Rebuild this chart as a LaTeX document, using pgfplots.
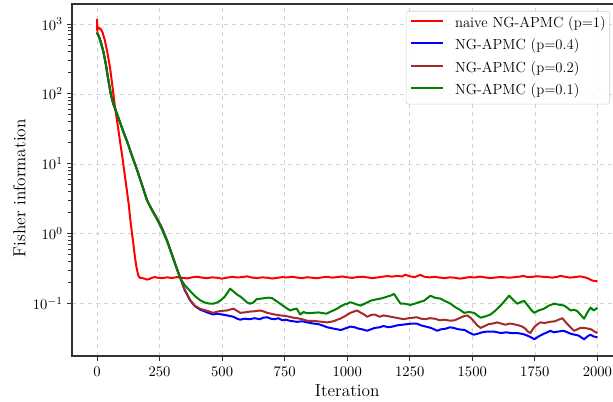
\documentclass[border=0pt]{standalone}
\usepackage{pgfplots}
\pgfplotsset{compat=1.18}
\definecolor{mbrown}{HTML}{A52A2A}
\definecolor{mgreen}{HTML}{008000}
\definecolor{spine}{HTML}{333333}
\begin{document}
\begin{tikzpicture}
\begin{axis}[
  scale only axis,
  width=412.8pt, height=264pt,
  xmin=-100, xmax=2100,
  ymode=log, ymin=0.01786, ymax=1932,
  xtick={0,250,500,750,1000,1250,1500,1750,2000},
  ytick={0.1,1,10,100,1000},
  minor ytick={},
  /pgf/number format/1000 sep={},
  axis line style={spine, line width=0.9pt},
  tick style={spine, line width=0.7pt},
  tick align=outside,
  major tick length=3.5pt,
  xtick pos=bottom, ytick pos=left,
  grid=major,
  major grid style={dashed, gray!35, line width=0.5pt},
  ticklabel style={font=\fontsize{11}{13}\selectfont},
  xticklabel style={anchor=base, yshift=-12.25pt},
  xlabel={Iteration},
  ylabel={Fisher information},
  every axis x label/.style={at={(axis description cs:0.5,0)}, anchor=base, yshift=-30.75pt, font=\fontsize{13}{15}\selectfont},
  every axis y label/.style={at={(axis description cs:0,0)}, xshift=-35pt, yshift=70.5pt, rotate=90, anchor=base west, font=\fontsize{13}{15}\selectfont},
  legend cell align=left,
  legend style={at={(1,1)}, anchor=north east, xshift=-9.3pt, yshift=-5.25pt,
    draw=gray!35, rounded corners=2pt, fill=white, fill opacity=0.8, text opacity=1,
    inner xsep=3pt, inner ysep=4pt, row sep=5.9pt,
    nodes={inner sep=0pt, text height=8pt, text depth=3pt},
    /tikz/every odd column/.append style={column sep=8.25pt},
    font=\fontsize{11}{13}\selectfont},
  legend image code/.code={\draw[#1, line width=1.5pt] (0pt,2.5pt) -- (24pt,2.5pt);},
  every axis plot/.append style={line width=1.5pt, line join=round},
]
% naive NG-APMC (p=1)
\addplot[red] coordinates {
(0,1180) (1,790) (4,900) (10,870) (16,830) (22,760) (32,570) (42,380) (52,238) (62,125) (72,64) (82,37) (92,21) (102,12) (112,6.5) (120,4.0) (127,2.6) (133,1.6) (140,1.0) (146,0.68) (152,0.45) (158,0.33) (164,0.26) (170,0.236)
(180,0.232) (190,0.228) (200,0.221) (210,0.226) (220,0.235) (230,0.24) (240,0.236) (260,0.232) (280,0.238) (300,0.233) (320,0.24) (340,0.235) (360,0.23) (380,0.238) (400,0.243) (420,0.236) (440,0.232) (460,0.238) (480,0.235) (500,0.228) (520,0.236) (540,0.242) (560,0.237) (580,0.24) (600,0.246) (620,0.236) (640,0.232) (660,0.238) (680,0.235) (700,0.229) (720,0.234) (740,0.24) (760,0.237) (780,0.243) (800,0.236) (820,0.232) (840,0.239) (860,0.235) (880,0.231) (900,0.238) (920,0.242) (940,0.236) (960,0.24) (980,0.245) (1000,0.238) (1020,0.234) (1040,0.24) (1060,0.243) (1080,0.238) (1100,0.232) (1120,0.237) (1140,0.243) (1160,0.248) (1180,0.244) (1200,0.25) (1220,0.245) (1232,0.26) (1250,0.246) (1270,0.24) (1292,0.258) (1310,0.242) (1330,0.238) (1350,0.242) (1370,0.236) (1390,0.232) (1410,0.238) (1430,0.235) (1450,0.228) (1470,0.234) (1490,0.24) (1510,0.237) (1530,0.244) (1550,0.238) (1570,0.232) (1590,0.236) (1610,0.241) (1630,0.238) (1650,0.235) (1670,0.24) (1690,0.244) (1705,0.25) (1720,0.24) (1740,0.242) (1760,0.247) (1780,0.243) (1800,0.24) (1820,0.236) (1840,0.242) (1852,0.25) (1870,0.243) (1890,0.236) (1910,0.24) (1930,0.246) (1950,0.238) (1965,0.228) (1975,0.218) (1985,0.212) (2000,0.21)
};
\addlegendentry{naive NG-APMC (p=1)}
% NG-APMC (p=0.4)
\addplot[blue] coordinates {
(0,760) (8,660) (16,540) (25,410) (35,270) (45,160) (55,100) (65,72) (75,58) (90,41) (105,29) (120,21) (140,13) (160,8.2) (180,5.0) (200,3.0) (220,2.2) (240,1.65) (260,1.2) (280,0.8) (300,0.5) (315,0.35) (332,0.237) (350,0.158) (372,0.112) (390,0.093) (410,0.083) (440,0.075) (465,0.07) (480,0.072) (500,0.07) (520,0.068) (545,0.065) (560,0.061) (572,0.059) (590,0.061) (610,0.06) (630,0.062) (650,0.06) (665,0.063) (680,0.064) (695,0.061) (710,0.06) (725,0.062) (740,0.058) (755,0.059) (770,0.057) (785,0.056) (800,0.055) (820,0.056) (840,0.054) (865,0.052) (885,0.051) (900,0.049) (920,0.046) (945,0.044) (960,0.043) (975,0.042) (990,0.044) (1013,0.047) (1030,0.046) (1045,0.044) (1060,0.043) (1080,0.041) (1095,0.043) (1110,0.045) (1130,0.046) (1145,0.048) (1165,0.046) (1180,0.047) (1200,0.049) (1220,0.05) (1240,0.051) (1260,0.052) (1278,0.052) (1295,0.049) (1315,0.047) (1335,0.045) (1360,0.041) (1375,0.043) (1395,0.044) (1410,0.046) (1425,0.045) (1445,0.043) (1470,0.042) (1485,0.039) (1505,0.036) (1520,0.037) (1540,0.039) (1560,0.04) (1585,0.04) (1600,0.039) (1615,0.038) (1635,0.039) (1655,0.038) (1680,0.038) (1700,0.037) (1720,0.035) (1735,0.033) (1748,0.031) (1765,0.034) (1785,0.037) (1800,0.039) (1812,0.041) (1825,0.039) (1845,0.04) (1865,0.041) (1880,0.039) (1895,0.037) (1910,0.036) (1925,0.035) (1935,0.033) (1947,0.031) (1960,0.034) (1972,0.036) (1985,0.034) (2000,0.033)
};
\addlegendentry{NG-APMC (p=0.4)}
% NG-APMC (p=0.2)
\addplot[mbrown] coordinates {
(0,760) (8,660) (16,540) (25,410) (35,270) (45,160) (55,100) (65,72) (75,58) (90,41) (105,29) (120,21) (140,13) (160,8.2) (180,5.0) (200,3.0) (220,2.2) (240,1.65) (260,1.2) (280,0.8) (300,0.5) (315,0.35) (332,0.237) (350,0.16) (372,0.113) (390,0.094) (410,0.085) (440,0.079) (465,0.074) (480,0.077) (500,0.079) (520,0.08) (545,0.085) (560,0.079) (572,0.074) (590,0.075) (610,0.077) (630,0.078) (652,0.08) (668,0.077) (680,0.074) (695,0.072) (710,0.07) (732,0.068) (750,0.067) (770,0.065) (785,0.063) (800,0.062) (820,0.06) (840,0.057) (860,0.057) (880,0.056) (900,0.055) (920,0.054) (945,0.056) (960,0.059) (972,0.061) (990,0.066) (1013,0.074) (1030,0.078) (1040,0.08) (1055,0.074) (1068,0.07) (1080,0.065) (1095,0.069) (1110,0.07) (1130,0.065) (1145,0.068) (1165,0.066) (1185,0.064) (1205,0.062) (1225,0.06) (1245,0.062) (1262,0.063) (1278,0.064) (1295,0.061) (1312,0.06) (1330,0.062) (1350,0.061) (1370,0.058) (1390,0.059) (1412,0.057) (1430,0.058) (1448,0.062) (1465,0.066) (1480,0.068) (1495,0.062) (1508,0.055) (1520,0.049) (1533,0.045) (1550,0.048) (1565,0.051) (1582,0.052) (1600,0.054) (1615,0.052) (1632,0.05) (1650,0.052) (1665,0.051) (1685,0.049) (1700,0.047) (1712,0.044) (1722,0.04) (1732,0.038) (1745,0.045) (1758,0.05) (1772,0.054) (1790,0.053) (1810,0.055) (1830,0.056) (1845,0.059) (1860,0.062) (1872,0.055) (1885,0.049) (1895,0.045) (1907,0.041) (1920,0.043) (1932,0.045) (1947,0.045) (1962,0.044) (1975,0.043) (1988,0.04) (2000,0.038)
};
\addlegendentry{NG-APMC (p=0.2)}
% NG-APMC (p=0.1)
\addplot[mgreen] coordinates {
(0,740) (8,650) (16,530) (25,405) (35,268) (45,160) (55,100) (65,72) (75,58) (90,41) (105,29) (120,21) (140,13) (160,8.2) (180,5.0) (200,3.0) (220,2.15) (240,1.6) (260,1.15) (280,0.78) (300,0.49) (315,0.345) (332,0.235) (350,0.185) (372,0.152) (390,0.13) (412,0.112) (430,0.104) (450,0.1) (465,0.1) (480,0.104) (495,0.112) (510,0.125) (522,0.145) (532,0.164) (545,0.15) (560,0.135) (575,0.125) (590,0.112) (600,0.104) (612,0.1) (625,0.104) (638,0.116) (655,0.118) (670,0.12) (685,0.122) (700,0.12) (715,0.11) (732,0.1) (750,0.09) (772,0.08) (785,0.083) (798,0.085) (812,0.07) (825,0.076) (840,0.073) (865,0.074) (885,0.075) (905,0.073) (918,0.072) (930,0.076) (945,0.08) (960,0.085) (975,0.092) (990,0.098) (1000,0.1) (1013,0.105) (1030,0.1) (1040,0.097) (1053,0.094) (1070,0.1) (1093,0.11) (1110,0.114) (1132,0.118) (1147,0.122) (1165,0.128) (1177,0.132) (1187,0.138) (1200,0.118) (1213,0.1) (1230,0.1) (1253,0.096) (1270,0.1) (1290,0.106) (1307,0.11) (1320,0.12) (1333,0.13) (1350,0.122) (1373,0.118) (1393,0.108) (1413,0.1) (1430,0.09) (1450,0.082) (1467,0.074) (1487,0.076) (1507,0.074) (1520,0.068) (1533,0.063) (1553,0.066) (1573,0.07) (1593,0.08) (1613,0.094) (1630,0.11) (1647,0.13) (1665,0.112) (1680,0.1) (1695,0.106) (1707,0.11) (1720,0.096) (1735,0.082) (1747,0.074) (1765,0.08) (1787,0.085) (1807,0.094) (1827,0.1) (1845,0.097) (1867,0.094) (1880,0.087) (1893,0.08) (1907,0.082) (1920,0.078) (1935,0.068) (1947,0.061) (1960,0.075) (1973,0.088) (1985,0.08) (2000,0.087)
};
\addlegendentry{NG-APMC (p=0.1)}
\end{axis}
\pgfresetboundingbox
\useasboundingbox ([xshift=-54pt,yshift=-34.5pt]current axis.south west) rectangle ([xshift=-7.05pt,yshift=3pt]current axis.north east);
\end{tikzpicture}
\end{document}
